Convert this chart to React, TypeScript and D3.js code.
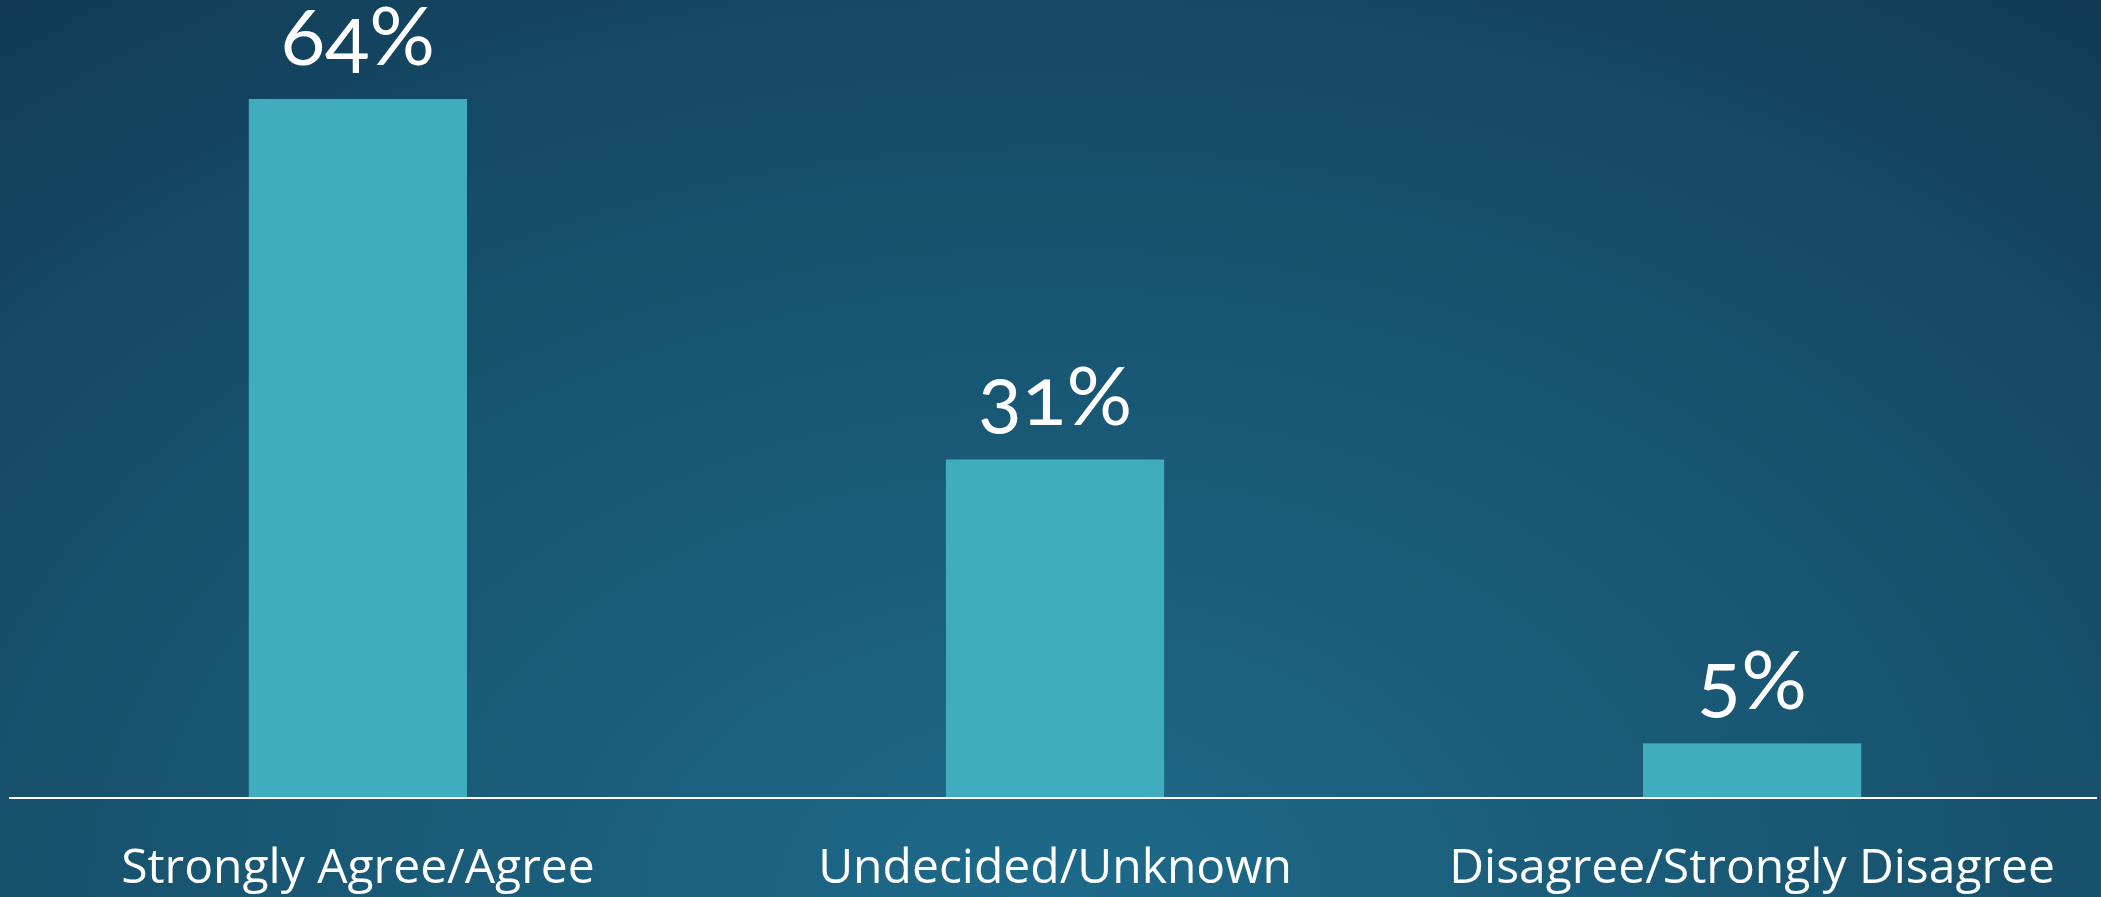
import React, { useEffect, useRef } from 'react';
import * as d3 from 'd3';

const categories = ['Strongly Agree/Agree', 'Undecided/Unknown', 'Disagree/Strongly Disagree'];
const values = [64, 31, 5];
const valueLabels = ['64%', '31%', '5%'];

const W = 2101;
const H = 897;

const App: React.FC = () => {
  const svgRef = useRef<SVGSVGElement>(null);

  useEffect(() => {
    if (!svgRef.current) return;
    const svg = d3.select(svgRef.current);
    svg.selectAll('*').remove();

    // background: soft elliptical glow from bottom centre
    const defs = svg.append('defs');
    const grad = defs.append('radialGradient')
      .attr('id', 'bg')
      .attr('gradientUnits', 'userSpaceOnUse')
      .attr('cx', 1050).attr('cy', 897).attr('r', 1150)
      .attr('gradientTransform', 'translate(1050,897) scale(1.48,1) translate(-1050,-897)');
    [[0, '#1e6a8a'], [0.6, '#17516c'], [0.78, '#144864'], [1, '#113a53']].forEach(([o, c]) => {
      grad.append('stop').attr('offset', o as number).attr('stop-color', c as string);
    });
    svg.append('rect').attr('width', W).attr('height', H).attr('fill', 'url(#bg)');

    const baseline = 798;

    const x = d3.scaleBand<string>()
      .domain(categories)
      .range([9, 2101])
      .paddingInner(0.687)
      .paddingOuter(0.344);

    const y = d3.scaleLinear()
      .domain([0, 64])
      .range([baseline, 99]);

    const g = svg.append('g');

    g.selectAll('rect.bar')
      .data(values)
      .enter()
      .append('rect')
      .attr('class', 'bar')
      .attr('x', (_, i) => x(categories[i])!)
      .attr('width', x.bandwidth())
      .attr('y', d => y(d))
      .attr('height', d => baseline - y(d))
      .attr('fill', '#40adbe');

    // axis line
    g.append('line')
      .attr('x1', 9).attr('x2', 2097)
      .attr('y1', baseline).attr('y2', baseline)
      .attr('stroke', '#ffffff')
      .attr('stroke-width', 2);

    // value labels
    g.selectAll('text.value')
      .data(values)
      .enter()
      .append('text')
      .attr('class', 'value')
      .attr('x', (_, i) => x(categories[i])! + x.bandwidth() / 2)
      .attr('y', d => y(d) - 34)
      .attr('text-anchor', 'middle')
      .attr('fill', '#ffffff')
      .attr('font-family', 'Lato, "Open Sans", sans-serif')
      .attr('font-size', 82)
      .style('font-variant-numeric', 'oldstyle-nums')
      .text((_, i) => valueLabels[i]);

    // category labels
    g.selectAll('text.cat')
      .data(categories)
      .enter()
      .append('text')
      .attr('class', 'cat')
      .attr('x', d => x(d)! + x.bandwidth() / 2)
      .attr('y', 883)
      .attr('text-anchor', 'middle')
      .attr('fill', '#ffffff')
      .attr('font-family', '"Open Sans", sans-serif')
      .attr('font-size', 48)
      .text(d => d);
  }, []);

  return (
    <div style={{ position: 'fixed', left: 0, top: 0, width: W, height: H }}>
      <svg ref={svgRef} width={W} height={H} style={{ display: 'block' }} />
    </div>
  );
};

export default App;
